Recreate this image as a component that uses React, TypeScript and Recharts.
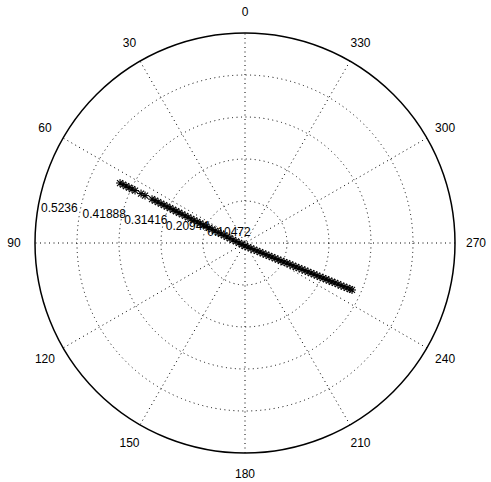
import React from "react";
import {
  ScatterChart,
  Scatter,
  XAxis,
  YAxis,
  ReferenceDot,
  ReferenceLine,
} from "recharts";

// polar data: angle in degrees (0 at top, counter-clockwise), radius
const thetaDeg = [
  64.36, 64.39, 64.41, 64.45, 64.48, 64.51, 64.58, 64.64, 64.74, 64.8,
  64.85, 64.91, 64.97, 65.04, 65.11, 65.19, 65.27, 65.37, 65.47, 65.58,
  65.71, 65.85, 66.0, 66.18, 66.39, 66.61, 66.88, 67.19, 67.57, 68.02,
  68.57, 69.28, 70.14, 71.36, 73.09, 75.75, 80.3, 89.8, 116.4, 180,
  215.3, 227.6, 233.3, 236.5, 238.6, 240.0, 241.0, 241.8, 242.4, 242.9,
  243.4, 243.7, 244.0, 244.3, 244.5, 244.7, 244.8, 245.0, 245.1, 245.3,
  245.4, 245.5, 245.6, 245.7, 245.7, 245.8, 245.9, 245.9, 246.0, 246.05,
  246.1, 246.1, 246.2, 246.2, 246.3, 246.3,
];
const rho = [
  0.3456, 0.3373, 0.3289, 0.3205, 0.3121, 0.3037, 0.287, 0.2758, 0.2563, 0.2479,
  0.2395, 0.2311, 0.2228, 0.2144, 0.206, 0.1976, 0.1893, 0.1809, 0.1725, 0.1641,
  0.1558, 0.1474, 0.139, 0.1306, 0.1223, 0.1139, 0.1055, 0.0971, 0.0888, 0.0804,
  0.072, 0.0636, 0.0557, 0.0474, 0.0391, 0.0309, 0.0228, 0.015, 0.0084, 0.0075,
  0.0129, 0.0202, 0.028, 0.0359, 0.0438, 0.0518, 0.0599, 0.0679, 0.0759, 0.084,
  0.0921, 0.1001, 0.1082, 0.1163, 0.1243, 0.1324, 0.1405, 0.1486, 0.1567, 0.1647,
  0.1728, 0.1809, 0.189, 0.197, 0.2051, 0.2132, 0.2213, 0.2294, 0.2375, 0.2455,
  0.2536, 0.2617, 0.2698, 0.2779, 0.286, 0.2914,
];

const ringTicks = [0.10472, 0.20944, 0.31416, 0.41888, 0.5236];
const ringLabels = ["0.10472", "0.20944", "0.31416", "0.41888", "0.5236"];
const angleTicks = [0, 30, 60, 90, 120, 150, 180, 210, 240, 270, 300, 330];
const spokeAngles = [0, 30, 60, 90, 120, 150];

const W = 491;
const H = 482;
const RMAX = 0.5236;
const R_PX = 210;
const HALF = 235;
const D = (RMAX * HALF) / R_PX;
const PX = R_PX / RMAX;
const rad = (a: number) => (a * Math.PI) / 180;

// angle measured from top, counter-clockwise
const toXY = (a: number, r: number) => ({ x: -r * Math.sin(rad(a)), y: r * Math.cos(rad(a)) });

const points = thetaDeg.map((a, i) => toXY(a, rho[i]));

const font = "'Liberation Sans', Arial, sans-serif";
const dotted = "1 3.5";

const Asterisk = (props: any) => {
  const { cx, cy } = props;
  const s = 4;
  const d = 3;
  return (
    <g stroke="#000" strokeWidth={1.1}>
      <line x1={cx - s} y1={cy} x2={cx + s} y2={cy} />
      <line x1={cx} y1={cy - s} x2={cx} y2={cy + s} />
      <line x1={cx - d} y1={cy - d} x2={cx + d} y2={cy + d} />
      <line x1={cx - d} y1={cy + d} x2={cx + d} y2={cy - d} />
    </g>
  );
};

export default function App() {
  return (
    <div style={{ position: "absolute", left: 0, top: 0, background: "#fff" }}>
      <ScatterChart
        width={W}
        height={H}
        margin={{ top: 8, right: 11, bottom: 4, left: 10 }}
      >
        <XAxis type="number" dataKey="x" domain={[-D, D]} hide />
        <YAxis type="number" dataKey="y" domain={[-D, D]} hide />

        {spokeAngles.map((a) => {
          const p = toXY(a, RMAX);
          return (
            <ReferenceLine
              key={"s" + a}
              segment={[
                { x: -p.x, y: -p.y },
                { x: p.x, y: p.y },
              ]}
              stroke="#000"
              strokeDasharray={dotted}
              strokeWidth={1}
            />
          );
        })}

        {ringTicks.map((t, i) => (
          <ReferenceDot
            key={"r" + t}
            x={0}
            y={0}
            r={t * PX}
            fill="none"
            stroke="#000"
            strokeWidth={i === ringTicks.length - 1 ? 1.5 : 1}
            strokeDasharray={i === ringTicks.length - 1 ? undefined : dotted}
          />
        ))}

        {ringTicks.map((t, i) => {
          const p = toXY(82, t + 0.10472 / 20);
          return (
            <ReferenceDot
              key={"rl" + t}
              x={p.x}
              y={p.y}
              r={0}
              shape={(props: any) => (
                <text
                  x={props.cx + 6}
                  y={props.cy - 1}
                  fontFamily={font}
                  fontSize={12}
                  fill="#000"
                >
                  {ringLabels[i]}
                </text>
              )}
            />
          );
        })}

        {angleTicks.map((a) => {
          const p = toXY(a, 1.1 * RMAX);
          return (
            <ReferenceDot
              key={"al" + a}
              x={p.x}
              y={p.y}
              r={0}
              shape={(props: any) => (
                <text
                  x={props.cx}
                  y={props.cy}
                  textAnchor="middle"
                  dominantBaseline="central"
                  fontFamily={font}
                  fontSize={12}
                  fill="#000"
                >
                  {a}
                </text>
              )}
            />
          );
        })}

        <Scatter data={points} shape={<Asterisk />} isAnimationActive={false} />
      </ScatterChart>
    </div>
  );
}
